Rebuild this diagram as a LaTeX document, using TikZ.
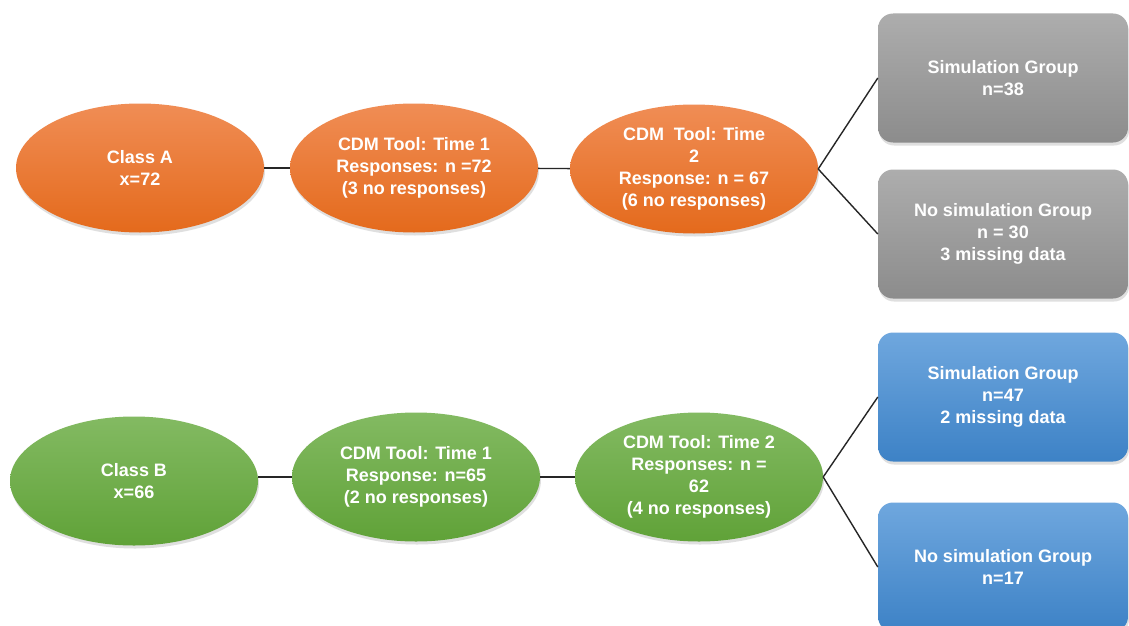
\documentclass[tikz,border=0pt]{standalone}
\usepackage{fontspec}
\setmainfont{Liberation Sans}
\usetikzlibrary{shapes.geometric,shadows}
\definecolor{orT}{HTML}{F08D55}
\definecolor{orB}{HTML}{E46A1C}
\definecolor{grT}{HTML}{ADADAD}
\definecolor{grB}{HTML}{8C8C8C}
\definecolor{blT}{HTML}{6FA7DE}
\definecolor{blB}{HTML}{3D82C6}
\definecolor{gnT}{HTML}{83BA62}
\definecolor{gnB}{HTML}{60A238}
\definecolor{lnC}{HTML}{262626}
\tikzset{
  base/.style={text=white, font=\fontsize{18}{22}\selectfont\bfseries, align=center, inner sep=0pt,
    drop shadow={opacity=0.25, shadow xshift=1pt, shadow yshift=-3pt}},
  oval/.style={base, ellipse, minimum width=248pt, minimum height=129pt},
  orange/.style={oval, top color=orT, bottom color=orB},
  green/.style={oval, top color=gnT, bottom color=gnB},
  boxnode/.style={base, rectangle, rounded corners=15pt, minimum width=250pt, minimum height=129pt},
  gray/.style={boxnode, top color=grT, bottom color=grB},
  blue/.style={boxnode, top color=blT, bottom color=blB},
  link/.style={draw=lnC, line width=1.4pt}
}
\begin{document}
\begin{tikzpicture}[x=1pt, y=-1pt]
\useasboundingbox (0,0) rectangle (1129,626);
\fill[white] (0,0) rectangle (1129,626);
% top row
\node[orange] (ca) at (140,168) {Class A\\x=72};
\node[orange] (a1) at (414,168) {CDM Tool: Time 1\\Responses: n =72\\(3 no responses)};
\node[orange] (a2) at (694,169) {CDM\ \ Tool: Time\\2\\Response: n = 67\\(6 no responses)};
\node[gray] (ga) at (1003,78) {Simulation Group\\n=38};
\node[gray] (gb) at (1003,234) {No simulation Group\\n = 30\\3 missing data};
% bottom row
\node[green] (cb) at (134,481) {Class B\\x=66};
\node[green] (b1) at (416,477) {CDM Tool: Time 1\\Response: n=65\\(2 no responses)};
\node[green] (b2) at (699,477) {CDM Tool: Time 2\\Responses: n =\\62\\(4 no responses)};
\node[blue] (ba) at (1003,397) {Simulation Group\\n=47\\2 missing data};
\node[blue] (bb) at (1003,567) {No simulation Group\\n=17};
% connectors
\draw[link] (ca) -- (a1);
\draw[link] (a1) -- (a2);
\draw[link] (a2.east) -- (ga.west);
\draw[link] (a2.east) -- (gb.west);
\draw[link] (cb.east |- b1.west) -- (b1);
\draw[link] (b1) -- (b2);
\draw[link] (b2.east) -- (ba.west);
\draw[link] (b2.east) -- (bb.west);
\end{tikzpicture}
\end{document}
